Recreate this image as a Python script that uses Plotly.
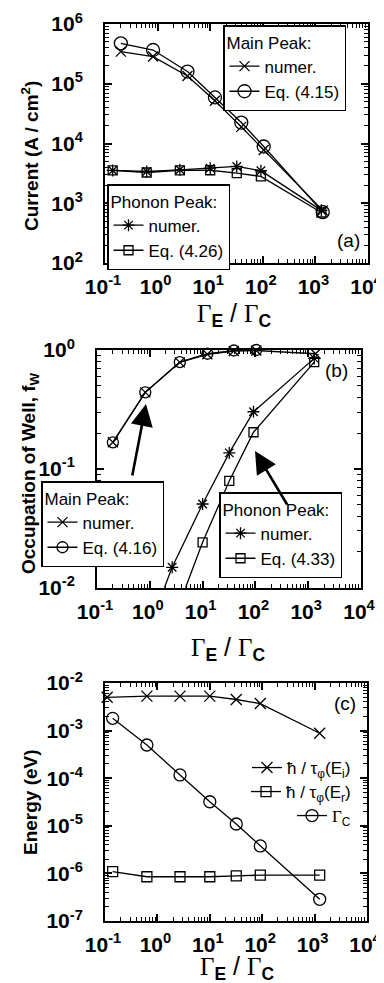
import plotly.graph_objects as go

# The page body keeps the browser's default 8px margin, so the figure is drawn
# 8px smaller and every reference pixel position is shifted by OFF.
REF_W, REF_H = 384, 983
OFF = 8
W, H = REF_W - OFF, REF_H - OFF

# ---------------- data ----------------
x_main = [0.2, 0.82, 3.7, 12.3, 39, 104, 1380]
x_phon = [0.14, 0.62, 2.65, 10, 32, 92, 1300]
x_energy = [0.14, 0.63, 2.7, 10, 32, 92, 1250]
x_energy_tau_i = [0.11, 0.63, 2.7, 10, 32, 92, 1250]

cur_main_numer = [3.45e5, 2.85e5, 1.35e5, 5.2e4, 1.9e4, 7.8e3, 760]
cur_main_eq = [4.75e5, 3.67e5, 1.6e5, 5.9e4, 2.24e4, 8.9e3, 710]
cur_phon_numer = [3.54e3, 3.4e3, 3.63e3, 3.87e3, 4.13e3, 3.5e3, 760]
cur_phon_eq = [3.54e3, 3.27e3, 3.54e3, 3.57e3, 3.19e3, 2.81e3, 700]

occ_main_numer = [0.167, 0.44, 0.787, 0.92, 0.98, 0.99, 0.93]
occ_main_eq = [0.167, 0.44, 0.79, 0.93, 0.99, 1.0, 1.04]
occ_phon_numer = [0.0004, 0.0027, 0.0148, 0.0505, 0.136, 0.302, 0.85]
occ_phon_eq = [0.0001, 0.0008, 0.005, 0.024, 0.079, 0.203, 0.79]

en_tau_i = [5.0e-3, 5.3e-3, 5.3e-3, 5.3e-3, 4.5e-3, 3.7e-3, 8.8e-4]
en_tau_r = [1.09e-6, 8.5e-7, 8.5e-7, 8.5e-7, 8.9e-7, 9.2e-7, 9.2e-7]
en_gamma_c = [1.81e-3, 4.98e-4, 1.17e-4, 3.2e-5, 1.09e-5, 3.77e-6, 2.86e-7]

x_tick_exp = [-1, 0, 1, 2, 3, 4]
ya_tick_exp = [2, 3, 4, 5, 6]
yb_tick_exp = [-2, -1, 0]
yc_tick_exp = [-7, -6, -5, -4, -3, -2]

# ---------------- helpers ----------------
def px(x):
    return (x - OFF) / W

def py(y):
    return 1 - (y - OFF) / H

SANS = "Liberation Sans"
SERIF = "Liberation Serif"
BLACK = "black"


def ticktext(exps):
    return ["10<sup>%d</sup>" % e for e in exps]


def minor_vals(exps):
    return [m * 10.0 ** e for e in exps[:-1] for m in range(2, 10)]


def log_axis(exps, domain, anchor, standoff, shift=0):
    return dict(
        type="log",
        range=[exps[0], exps[-1]],
        domain=domain,
        anchor=anchor,
        tickmode="array",
        tickvals=[10.0 ** e for e in exps],
        ticktext=ticktext(exps),
        ticks="inside",
        ticklen=7,
        tickwidth=1.5,
        tickcolor=BLACK,
        showline=True,
        linewidth=2,
        linecolor=BLACK,
        mirror="allticks",
        showgrid=False,
        zeroline=False,
        ticklabelstandoff=standoff,
        ticklabelshift=shift,
        ticklabeloverflow="allow",
        tickfont=dict(family=SANS, size=21, color=BLACK, weight="bold"),
        minor=dict(tickmode="array", tickvals=minor_vals(exps), ticks="inside",
                   ticklen=4, tickwidth=1, tickcolor=BLACK, showgrid=False),
        automargin=False,
    )


fig = go.Figure()

LINE = dict(color=BLACK, width=1.3)


def add(x, y, xa, ya, symbol, size, name, legend):
    fig.add_trace(go.Scatter(
        x=x, y=y, xaxis=xa, yaxis=ya, mode="lines+markers", name=name,
        legend=legend, line=LINE, cliponaxis=False,
        marker=dict(symbol=symbol, size=size, color=BLACK,
                    line=dict(color=BLACK, width=1.3)),
    ))

# panel (a)
add(x_main, cur_main_numer, "x", "y", "x-thin-open", 10, "numer.", "legend")
add(x_main, cur_main_eq, "x", "y", "circle-open", 13, "Eq. (4.15)", "legend")
add(x_phon, cur_phon_numer, "x", "y", "asterisk-open", 10, "numer.", "legend2")
add(x_phon, cur_phon_eq, "x", "y", "square-open", 9, "Eq. (4.26)", "legend2")

# panel (b)
add(x_main, occ_main_numer, "x2", "y2", "x-thin-open", 10, "numer.", "legend3")
add(x_main, occ_main_eq, "x2", "y2", "circle-open", 11, "Eq. (4.16)", "legend3")
add(x_phon, occ_phon_numer, "x2", "y2", "asterisk-open", 10, "numer.", "legend4")
add(x_phon, occ_phon_eq, "x2", "y2", "square-open", 9, "Eq. (4.33)", "legend4")

# panel (c)
add(x_energy_tau_i, en_tau_i, "x3", "y3", "x-thin-open", 11,
    "ħ / τ<sub>φ</sub>(E<sub>i</sub>)", "legend5")
add(x_energy, en_tau_r, "x3", "y3", "square-open", 10,
    "ħ / τ<sub>φ</sub>(E<sub>r</sub>)", "legend6")
add(x_energy, en_gamma_c, "x3", "y3", "circle-open", 12,
    "<span style='font-family:Liberation Serif'>Γ</span><sub>C</sub>", "legend7")

# ---------------- layout ----------------
dom_a = dict(x=[px(105), px(368)], y=[py(263), py(24)])
dom_b = dict(x=[px(97), px(361)], y=[py(587.5), py(350)])
dom_c = dict(x=[px(105), px(367)], y=[py(921), py(683)])

LEG_FONT = dict(family=SANS, size=17, color=BLACK)


def boxed_legend(x, y, yanchor, title):
    return dict(
        x=px(x), y=py(y), xref="paper", yref="paper", xanchor="left", yanchor=yanchor,
        bgcolor="white", bordercolor=BLACK, borderwidth=1.5,
        font=LEG_FONT, title=dict(text=title, font=LEG_FONT),
        itemwidth=30, tracegroupgap=0,
    )


def plain_legend(x, y):
    return dict(
        x=px(x), y=py(y), xref="paper", yref="paper", xanchor="right", yanchor="middle",
        bgcolor="rgba(0,0,0,0)", borderwidth=0, font=LEG_FONT, itemwidth=30,
    )


XS, YS = 4, 16
fig.update_layout(
    width=W, height=H,
    margin=dict(l=0, r=0, t=0, b=0),
    paper_bgcolor="white", plot_bgcolor="white",
    showlegend=True,
    xaxis=log_axis(x_tick_exp, dom_a["x"], "y", XS, -2),
    yaxis=log_axis(ya_tick_exp, dom_a["y"], "x", YS),
    xaxis2=log_axis(x_tick_exp, dom_b["x"], "y2", XS, -2),
    yaxis2=log_axis(yb_tick_exp, dom_b["y"], "x2", YS),
    xaxis3=log_axis(x_tick_exp, dom_c["x"], "y3", XS, -2),
    yaxis3=log_axis(yc_tick_exp, dom_c["y"], "x3", YS),
    legend=boxed_legend(223, 25, "top", "Main Peak:"),
    legend2=boxed_legend(107, 184, "top", "Phonon Peak:"),
    legend3=boxed_legend(41, 481, "top", "Main Peak:"),
    legend4=boxed_legend(219, 578, "bottom", "Phonon Peak:"),
    legend5=plain_legend(356, 768),
    legend6=plain_legend(356, 792),
    legend7=plain_legend(356, 816),
)

TITLE_FONT = dict(family=SANS, size=19, color=BLACK, weight="bold")
GAMMA = ("Γ<sub><span style='font-family:Liberation Sans;font-weight:bold'>E</span></sub>"
         "<span style='font-family:Liberation Sans'> / </span>"
         "Γ<sub><span style='font-family:Liberation Sans;font-weight:bold'>C</span></sub>")
GFONT = dict(family=SERIF, size=25, color=BLACK)

annotations = [
    # y titles
    dict(x=px(30), y=py(156), text="Current (A / cm<sup>2</sup>)", textangle=-90,
         font=TITLE_FONT),
    dict(x=px(30), y=py(473), text="Occupation of Well, f<sub>W</sub>", textangle=-90,
         font=TITLE_FONT),
    dict(x=px(30), y=py(802), text="Energy (eV)", textangle=-90, font=TITLE_FONT),
    # x titles
    dict(x=px(234), y=py(315), text=GAMMA, font=GFONT),
    dict(x=px(228), y=py(649), text=GAMMA, font=GFONT),
    dict(x=px(237), y=py(968), text=GAMMA, font=GFONT),
    # panel labels
    dict(x=px(348), y=py(241), text="(a)", font=dict(family=SANS, size=19, color=BLACK)),
    dict(x=px(336), y=py(370), text="(b)", font=dict(family=SANS, size=19, color=BLACK)),
    dict(x=px(345), y=py(703), text="(c)", font=dict(family=SANS, size=19, color=BLACK)),
]
for a in annotations:
    a.update(xref="paper", yref="paper", showarrow=False, xanchor="center", yanchor="middle")

arrows = [
    dict(x=px(146), y=py(404), ax=-14, ay=73),
    dict(x=px(255), y=py(451), ax=33, ay=55),
]
for a in arrows:
    a.update(xref="paper", yref="paper", text="", showarrow=True, arrowhead=2,
             arrowsize=1.7, arrowwidth=2.6, arrowcolor=BLACK, standoff=0)

fig.update_layout(annotations=annotations + arrows)

fig.write_html("out.html")
